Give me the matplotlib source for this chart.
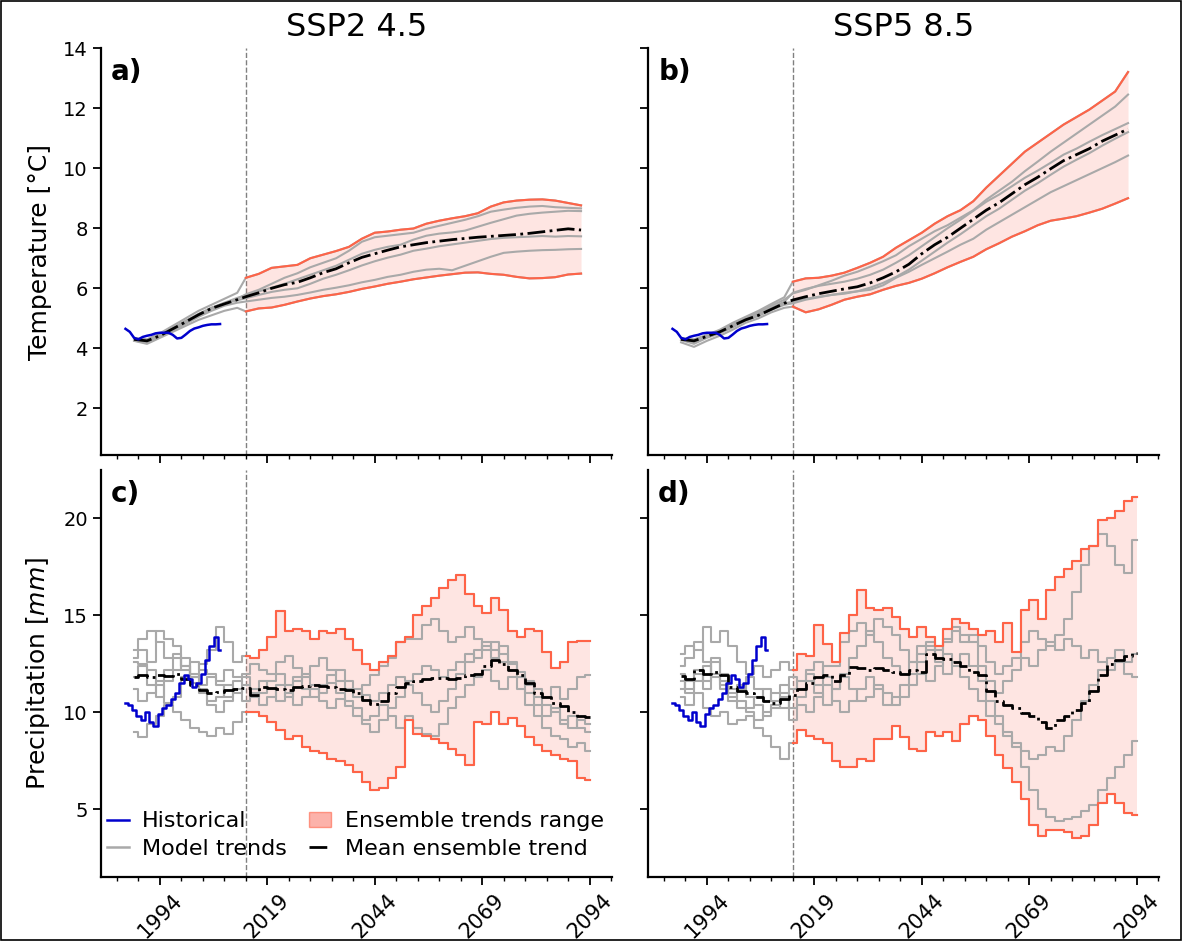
import numpy as np
import matplotlib
matplotlib.use("Agg")
import matplotlib.pyplot as plt
from matplotlib.lines import Line2D
from matplotlib.patches import Patch, Rectangle

# time axes
years_t = np.r_[np.arange(1988, 2013, 3), np.arange(2014, 2093, 3)]   # temperature grid
years_p = np.arange(1988, 2095, 2)                                   # precipitation grid
hist_years = np.arange(1986, 2009)
proj_start = 2014

# observed (historical) series
hist_t = [4.65, 4.55, 4.35, 4.30, 4.38, 4.42, 4.45, 4.50, 4.52, 4.52, 4.52, 4.45,
          4.33, 4.35, 4.46, 4.58, 4.66, 4.70, 4.75, 4.78, 4.80, 4.80, 4.81]
hist_p = [10.5, 10.4, 10.1, 9.8, 9.6, 10.0, 9.5, 9.3, 9.9, 10.2, 10.4, 10.7,
          11.0, 11.5, 11.9, 11.7, 11.3, 11.5, 12.0, 12.7, 13.4, 13.9, 13.2]

# ---- SSP2 4.5 temperature (panel a) ----
a_hi = [4.35, 4.30, 4.50, 4.75, 5.00, 5.25, 5.45, 5.65, 5.85,
        6.35, 6.48, 6.68, 6.73, 6.78, 7.00, 7.12, 7.24, 7.38, 7.65, 7.85, 7.89, 7.95, 7.99,
        8.15, 8.25, 8.33, 8.40, 8.50, 8.72, 8.86, 8.92, 8.95, 8.96, 8.92, 8.84, 8.76]
a_lo = [4.25, 4.15, 4.35, 4.55, 4.75, 4.95, 5.10, 5.25, 5.35,
        5.23, 5.33, 5.36, 5.45, 5.56, 5.66, 5.74, 5.80, 5.88, 5.98, 6.06, 6.15, 6.22, 6.30,
        6.36, 6.42, 6.47, 6.52, 6.53, 6.48, 6.45, 6.38, 6.33, 6.34, 6.37, 6.46, 6.49]
a_m1 = [4.30, 4.20, 4.40, 4.62, 4.85, 5.10, 5.32, 5.50, 5.65,
        5.80, 5.95, 6.15, 6.35, 6.50, 6.70, 6.85, 7.00, 7.25, 7.55, 7.70, 7.75, 7.80, 7.85,
        7.98, 8.08, 8.18, 8.28, 8.40, 8.55, 8.62, 8.68, 8.72, 8.74, 8.70, 8.68, 8.66]
a_m2 = [4.32, 4.28, 4.45, 4.68, 4.92, 5.15, 5.35, 5.52, 5.68,
        5.77, 5.90, 6.02, 6.15, 6.30, 6.45, 6.60, 6.75, 6.95, 7.15, 7.28, 7.38, 7.45, 7.62,
        7.75, 7.82, 7.86, 7.92, 8.05, 8.18, 8.30, 8.42, 8.48, 8.52, 8.55, 8.58, 8.57]
a_m3 = [4.28, 4.22, 4.42, 4.66, 4.90, 5.12, 5.35, 5.50, 5.60,
        5.67, 5.78, 5.88, 5.95, 6.00, 6.15, 6.32, 6.45, 6.60, 6.76, 6.90, 7.02, 7.12, 7.25,
        7.32, 7.40, 7.46, 7.52, 7.58, 7.64, 7.68, 7.70, 7.72, 7.74, 7.72, 7.74, 7.73]
a_m4 = [4.26, 4.18, 4.38, 4.60, 4.82, 5.05, 5.25, 5.42, 5.52,
        5.56, 5.62, 5.68, 5.72, 5.78, 5.86, 5.95, 6.02, 6.10, 6.20, 6.28, 6.38, 6.45, 6.55,
        6.62, 6.65, 6.60, 6.75, 6.90, 7.05, 7.18, 7.22, 7.25, 7.27, 7.28, 7.30, 7.31]
a_mean = [4.30, 4.25, 4.42, 4.65, 4.88, 5.12, 5.33, 5.48, 5.62,
          5.72, 5.85, 6.00, 6.12, 6.20, 6.35, 6.52, 6.65, 6.85, 7.03, 7.15, 7.27, 7.38, 7.45,
          7.52, 7.57, 7.62, 7.66, 7.70, 7.73, 7.76, 7.79, 7.83, 7.88, 7.93, 7.98, 7.94]

# ---- SSP5 8.5 temperature (panel b) ----
b_hi = [4.35, 4.30, 4.45, 4.62, 4.85, 5.05, 5.25, 5.48, 5.70,
        6.22, 6.33, 6.35, 6.42, 6.52, 6.68, 6.85, 7.05, 7.35, 7.60, 7.85, 8.15, 8.40, 8.60,
        8.90, 9.35, 9.75, 10.15, 10.55, 10.85, 11.15, 11.45, 11.70, 11.95, 12.25, 12.55, 13.20]
b_lo = [4.20, 4.05, 4.25, 4.42, 4.62, 4.85, 5.00, 5.20, 5.35,
        5.39, 5.20, 5.30, 5.45, 5.62, 5.72, 5.80, 5.95, 6.08, 6.18, 6.32, 6.50, 6.70, 6.88,
        7.05, 7.30, 7.50, 7.72, 7.90, 8.10, 8.25, 8.32, 8.40, 8.52, 8.65, 8.82, 9.00]
b_m1 = [4.32, 4.28, 4.42, 4.58, 4.80, 5.00, 5.20, 5.42, 5.62,
        5.83, 5.95, 6.10, 6.25, 6.42, 6.55, 6.72, 6.90, 7.10, 7.40, 7.65, 7.90, 8.10, 8.35,
        8.60, 8.95, 9.25, 9.55, 9.90, 10.22, 10.55, 10.85, 11.15, 11.45, 11.75, 12.05, 12.45]
b_m2 = [4.28, 4.15, 4.35, 4.50, 4.70, 4.92, 5.08, 5.28, 5.45,
        5.50, 5.62, 5.70, 5.78, 5.82, 5.90, 5.95, 6.10, 6.35, 6.55, 6.78, 7.00, 7.22, 7.45,
        7.65, 7.95, 8.20, 8.45, 8.70, 8.95, 9.20, 9.40, 9.60, 9.80, 10.00, 10.20, 10.42]
b_m3 = [4.30, 4.22, 4.40, 4.56, 4.78, 4.98, 5.15, 5.35, 5.55,
        5.85, 5.98, 6.08, 6.15, 6.22, 6.32, 6.45, 6.62, 6.85, 7.10, 7.40, 7.70, 8.00, 8.28,
        8.58, 8.88, 9.12, 9.40, 9.68, 9.92, 10.18, 10.45, 10.65, 10.88, 11.10, 11.30, 11.50]
b_m4 = [4.28, 4.20, 4.38, 4.54, 4.74, 4.96, 5.12, 5.32, 5.50,
        5.55, 5.65, 5.72, 5.78, 5.85, 5.90, 6.02, 6.18, 6.38, 6.62, 6.92, 7.22, 7.52, 7.80,
        8.10, 8.40, 8.65, 8.95, 9.25, 9.50, 9.78, 10.05, 10.28, 10.50, 10.75, 10.98, 11.20]
b_mean = [4.30, 4.25, 4.40, 4.55, 4.75, 4.95, 5.10, 5.30, 5.50,
          5.61, 5.72, 5.82, 5.90, 5.98, 6.05, 6.18, 6.35, 6.55, 6.80, 7.15, 7.45, 7.70, 8.00,
          8.30, 8.60, 8.85, 9.15, 9.45, 9.70, 9.98, 10.25, 10.45, 10.65, 10.90, 11.10, 11.30]

# ---- SSP2 4.5 precipitation (panel c) ----
c_hi = [13.2, 13.8, 14.2, 13.6, 12.8, 13.0, 12.4, 11.8, 12.5, 13.2, 14.4, 13.6, 12.6,
        12.9, 12.8, 13.2, 13.9, 15.2, 14.2, 14.3, 14.2, 13.8, 14.2, 14.1, 14.3, 13.8, 13.2,
        12.5, 12.2, 12.6, 12.9, 13.6, 13.9, 15.0, 15.5, 15.9, 16.4, 16.8, 17.1, 16.1, 15.5,
        15.1, 15.9, 15.3, 14.2, 13.9, 14.3, 14.2, 13.1, 12.3, 12.6, 13.6, 13.7, 13.7]
c_lo = [9.0, 8.7, 9.4, 9.8, 10.4, 10.0, 9.6, 9.2, 9.0, 8.8, 9.2, 8.9, 9.5,
        10.0, 10.0, 9.8, 9.5, 9.1, 8.6, 8.8, 8.2, 8.0, 7.9, 7.6, 7.5, 7.3, 6.9,
        6.4, 6.0, 6.1, 6.6, 7.2, 9.6, 8.9, 8.8, 8.6, 8.4, 8.1, 7.8, 7.3, 9.5,
        9.4, 10.0, 9.4, 9.7, 9.3, 8.7, 8.3, 8.0, 7.8, 7.6, 7.5, 6.6, 6.5]
c_m1 = [12.8, 13.2, 12.6, 14.2, 13.8, 13.4, 12.2, 11.5, 11.0, 10.6, 10.8, 11.4, 11.0,
        12.0, 12.5, 12.2, 12.0, 12.6, 12.9, 12.3, 11.8, 12.4, 12.8, 12.2, 11.6, 11.2, 10.8,
        11.4, 11.9, 12.4, 12.8, 13.6, 13.8, 13.8, 14.5, 14.8, 14.2, 13.6, 13.9, 14.4, 13.8,
        13.2, 13.6, 13.0, 12.5, 12.1, 11.6, 11.2, 10.8, 11.3, 10.7, 11.2, 11.8, 11.9]
c_m2 = [11.8, 12.4, 11.4, 10.8, 11.6, 12.2, 12.8, 12.0, 11.2, 10.4, 10.0, 10.6, 11.6,
        11.4, 10.8, 11.6, 11.2, 10.6, 11.0, 10.4, 10.8, 11.2, 10.6, 10.2, 10.7, 10.3, 9.8,
        9.4, 9.0, 9.6, 10.2, 10.8, 11.4, 11.0, 10.4, 10.0, 10.6, 11.2, 12.0, 12.6, 13.2,
        13.6, 12.8, 13.4, 12.6, 11.8, 11.0, 10.4, 9.8, 10.2, 9.4, 9.8, 9.2, 9.0]
c_m3 = [11.2, 10.6, 11.0, 11.6, 12.2, 12.8, 12.4, 11.8, 11.4, 11.8, 11.4, 10.8, 11.2,
        10.6, 11.0, 10.4, 10.8, 11.4, 10.8, 11.6, 12.0, 11.4, 11.0, 11.5, 11.0, 10.6, 10.2,
        9.6, 9.8, 10.4, 9.8, 9.2, 9.8, 9.2, 8.9, 8.8, 9.4, 10.2, 10.8, 11.4, 11.8,
        12.2, 11.6, 11.2, 11.8, 11.2, 10.4, 9.8, 9.2, 8.8, 8.6, 8.2, 8.4, 8.0]
c_m4 = [12.6, 12.5, 12.2, 11.4, 10.5, 10.8, 11.8, 12.6, 12.2, 12.0, 11.6, 12.2, 11.8,
        11.8, 11.2, 11.0, 11.6, 12.0, 11.4, 11.8, 11.2, 10.8, 11.4, 11.9, 12.2, 11.6, 11.2,
        10.9, 10.6, 11.0, 11.4, 11.8, 11.6, 12.0, 12.4, 12.2, 11.8, 12.2, 12.6, 13.0, 12.8,
        13.4, 13.2, 12.6, 12.2, 11.8, 11.4, 10.8, 10.4, 10.0, 9.6, 9.2, 9.6, 9.4]
c_mean = [11.8, 11.9, 11.8, 11.9, 11.85, 12.0, 11.7, 11.4, 11.15, 11.0, 11.05, 11.15, 11.2,
          11.25, 10.9, 11.3, 11.25, 11.2, 11.15, 11.3, 11.35, 11.4, 11.35, 11.3, 11.2, 11.15, 11.0,
          10.65, 10.45, 10.6, 11.0, 11.3, 11.5, 11.6, 11.7, 11.75, 11.75, 11.7, 11.75, 11.9, 12.0,
          12.4, 12.7, 12.5, 12.2, 11.9, 11.5, 11.0, 10.8, 10.5, 10.3, 10.0, 9.8, 9.75]

# ---- SSP5 8.5 precipitation (panel d) ----
d_hi = [13.0, 13.4, 13.2, 14.4, 13.6, 14.2, 13.4, 12.6, 12.0, 12.4, 11.8, 12.2, 12.6,
        12.2, 13.0, 12.9, 14.5, 13.5, 12.6, 14.1, 15.0, 16.3, 15.4, 15.3, 15.4, 14.9, 14.3,
        13.9, 14.4, 13.9, 13.4, 14.3, 14.8, 14.6, 14.3, 14.0, 14.2, 13.6, 14.6, 13.1, 15.3,
        15.8, 14.8, 16.3, 17.0, 17.4, 17.8, 18.4, 18.6, 19.9, 20.0, 20.4, 20.9, 21.1]
d_lo = [10.8, 10.4, 11.0, 10.2, 9.8, 10.0, 9.4, 9.6, 9.8, 9.2, 8.8, 8.2, 7.6,
        8.4, 9.1, 8.8, 8.6, 8.4, 7.5, 7.2, 7.2, 7.6, 7.5, 8.6, 8.6, 9.3, 8.7,
        8.1, 8.0, 9.0, 8.8, 9.0, 8.5, 9.4, 9.8, 9.6, 8.8, 7.8, 7.1, 6.4, 5.5,
        4.2, 3.6, 3.9, 3.9, 3.8, 3.5, 3.6, 4.2, 5.3, 5.8, 5.3, 4.8, 4.7]
d_m1 = [12.4, 12.8, 13.6, 12.6, 12.0, 11.4, 10.8, 11.2, 11.8, 11.2, 10.6, 11.0, 11.4,
        11.2, 11.6, 12.0, 11.4, 12.4, 12.4, 13.6, 14.2, 14.6, 14.0, 14.8, 14.4, 14.0, 13.2,
        12.6, 13.0, 13.4, 12.8, 13.6, 14.2, 13.6, 14.0, 13.4, 12.6, 12.0, 12.4, 12.8, 13.6,
        14.2, 13.8, 13.4, 14.0, 14.8, 16.2, 17.6, 18.6, 19.2, 18.6, 17.6, 17.2, 18.9]
d_m2 = [11.6, 11.2, 12.0, 11.6, 12.6, 12.0, 11.2, 10.6, 10.2, 10.8, 11.2, 10.6, 10.2,
        11.8, 11.2, 12.2, 12.6, 11.8, 11.2, 12.0, 12.8, 13.4, 14.2, 13.6, 12.8, 12.4, 12.0,
        12.6, 13.4, 13.6, 13.2, 13.8, 14.4, 14.0, 13.6, 12.4, 11.6, 11.0, 11.6, 12.2, 12.8,
        12.4, 13.2, 13.6, 13.2, 13.8, 13.4, 12.8, 13.2, 12.6, 12.2, 12.6, 12.0, 11.8]
d_m3 = [12.0, 11.0, 11.6, 12.4, 11.8, 11.2, 10.6, 10.2, 10.0, 9.6, 10.0, 10.4, 10.8,
        9.6, 10.4, 10.0, 10.8, 11.4, 10.6, 10.0, 10.6, 11.2, 11.8, 11.2, 10.4, 10.8, 11.4,
        12.0, 12.6, 13.2, 12.6, 12.0, 12.6, 13.0, 12.4, 11.6, 10.6, 9.8, 9.0, 8.2, 7.2,
        6.0, 5.0, 4.6, 4.4, 4.5, 4.6, 4.9, 5.2, 6.0, 6.6, 7.2, 7.8, 8.5]
d_m4 = [11.2, 11.6, 12.2, 11.2, 12.8, 11.6, 11.0, 11.4, 10.8, 10.4, 9.8, 10.2, 11.0,
        10.2, 10.8, 11.6, 11.0, 10.4, 11.2, 11.8, 11.2, 10.6, 10.8, 11.4, 11.0, 10.4, 10.8,
        11.4, 12.0, 11.6, 12.4, 13.0, 12.4, 11.8, 11.2, 10.6, 9.8, 9.4, 8.8, 8.4, 8.0,
        7.6, 7.8, 8.2, 8.0, 8.8, 9.6, 10.6, 11.4, 12.2, 12.8, 13.2, 12.6, 13.0]
d_mean = [11.85, 11.7, 12.2, 11.95, 12.1, 11.9, 11.3, 11.1, 11.0, 10.8, 10.6, 10.5, 10.7,
          10.9, 11.2, 11.5, 11.8, 11.9, 11.6, 11.9, 12.35, 12.3, 12.2, 12.3, 12.2, 12.1, 12.0,
          12.2, 12.1, 13.0, 12.8, 12.75, 12.6, 12.4, 12.1, 11.9, 11.1, 10.6, 10.4, 10.2, 9.95,
          9.8, 9.5, 9.2, 9.6, 9.8, 10.1, 10.5, 11.1, 11.9, 12.5, 12.7, 12.9, 13.05]

RED = "tomato"
GRAY = "darkgray"
BLUE = "mediumblue"


def draw_panel(ax, years, models, hi, lo, mean, hist, steps):
    ds = "steps-mid" if steps else "default"
    proj = years >= proj_start
    hi = np.array(hi)
    lo = np.array(lo)
    # model trends (extreme models are gray before the projection start)
    for m in models + [hi, lo]:
        ax.plot(years, m, color=GRAY, lw=1.5, drawstyle=ds, zorder=2)
    # ensemble range
    ax.fill_between(years[proj], lo[proj], hi[proj], color="salmon", alpha=0.2,
                    lw=0, step="mid" if steps else None, zorder=1)
    ax.plot(years[proj], hi[proj], color=RED, lw=1.5, drawstyle=ds, zorder=3)
    ax.plot(years[proj], lo[proj], color=RED, lw=1.5, drawstyle=ds, zorder=3)
    # mean ensemble trend
    ax.plot(years, mean, color="black", ls="-.", lw=2.0, drawstyle=ds, zorder=4)
    # historical
    ax.plot(hist_years, hist, color=BLUE, lw=1.8, drawstyle=ds, zorder=5)
    ax.axvline(proj_start, color="gray", ls="--", lw=1, zorder=0)


fig = plt.figure(figsize=(11.82, 9.41), dpi=100)
W, H = 1182, 941
ax_w = (612 - 101) / W
ax_h = (455 - 48) / H
ax_a = fig.add_axes([101 / W, 1 - 455 / H, ax_w, ax_h])
ax_b = fig.add_axes([648 / W, 1 - 455 / H, ax_w, ax_h])
ax_c = fig.add_axes([101 / W, 1 - 877 / H, ax_w, ax_h])
ax_d = fig.add_axes([648 / W, 1 - 877 / H, ax_w, ax_h])

draw_panel(ax_a, years_t, [a_m1, a_m2, a_m3, a_m4], a_hi, a_lo, a_mean, hist_t, False)
draw_panel(ax_b, years_t, [b_m1, b_m2, b_m3, b_m4], b_hi, b_lo, b_mean, hist_t, False)
draw_panel(ax_c, years_p, [c_m1, c_m2, c_m3, c_m4], c_hi, c_lo, c_mean, hist_p, True)
draw_panel(ax_d, years_p, [d_m1, d_m2, d_m3, d_m4], d_hi, d_lo, d_mean, hist_p, True)

for ax, letter in zip([ax_a, ax_b, ax_c, ax_d], ["a)", "b)", "c)", "d)"]):
    ax.set_xlim(1980.3, 2099.2)
    ax.spines["top"].set_visible(False)
    ax.spines["right"].set_visible(False)
    ax.spines["left"].set_linewidth(1.6)
    ax.spines["bottom"].set_linewidth(1.6)
    ax.set_xticks([1994, 2019, 2044, 2069, 2094])
    ax.set_xticks(np.arange(1984, 2100, 5), minor=True)
    ax.tick_params(which="major", length=6, width=1.3, labelsize=14)
    ax.tick_params(which="minor", length=3, width=1)
    ax.text(0.02, 0.975, letter, transform=ax.transAxes, fontsize=20,
            fontweight="bold", va="top", ha="left")

for ax in [ax_a, ax_b]:
    ax.set_ylim(0.45, 14.0)
    ax.set_yticks([2, 4, 6, 8, 10, 12, 14])
    ax.tick_params(labelbottom=False)
for ax in [ax_c, ax_d]:
    ax.set_ylim(1.5, 22.5)
    ax.set_yticks([5, 10, 15, 20])
    ax.tick_params(axis="x", labelrotation=45, labelsize=15)
for ax in [ax_b, ax_d]:
    ax.tick_params(labelleft=False)

ax_a.set_title("SSP2 4.5", fontsize=23, pad=9)
ax_b.set_title("SSP5 8.5", fontsize=23, pad=9)
ax_a.set_ylabel("Temperature [°C]", fontsize=18, labelpad=8)
ax_c.set_ylabel("Precipitation [$mm$]", fontsize=18, labelpad=8)

# legend
handles = [
    Line2D([], [], color=BLUE, lw=1.8),
    Line2D([], [], color=GRAY, lw=1.8),
    Patch(facecolor="salmon", edgecolor=RED, alpha=0.6),
    Line2D([], [], color="black", ls="-.", lw=2.0),
]
labels = ["Historical", "Model trends", "Ensemble trends range", "Mean ensemble trend"]
ax_c.legend(handles, labels, loc="lower left", bbox_to_anchor=(0.0, 0.03), ncol=2,
            frameon=False, fontsize=16, handlelength=1.0, handletextpad=0.6,
            columnspacing=1.0, labelspacing=0.35, borderaxespad=0.05, borderpad=0.2)

# border round the figure
fig.patches.append(Rectangle((0.001, 0.001), 0.998, 0.998, transform=fig.transFigure,
                             fill=False, ec="black", lw=1.2))

plt.savefig("out.png", dpi=100)
